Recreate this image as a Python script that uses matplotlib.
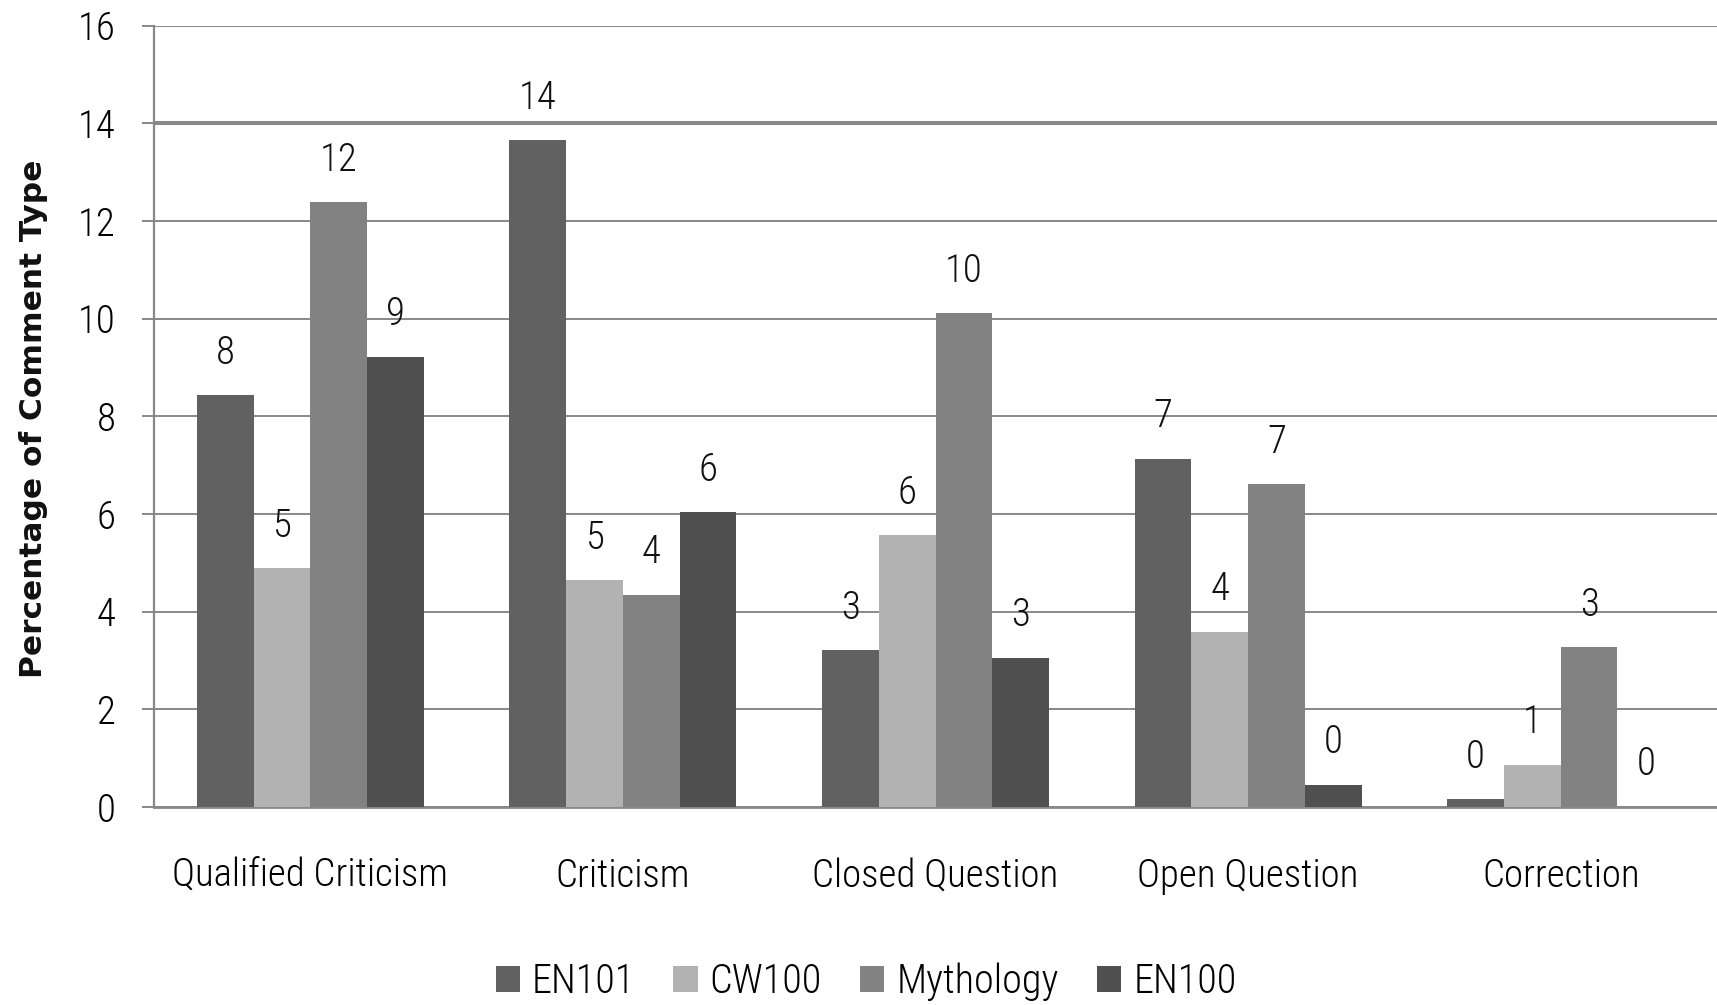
import matplotlib
matplotlib.use("Agg")
import matplotlib.pyplot as plt
import numpy as np
from matplotlib.font_manager import FontProperties

categories = ["Qualified Criticism", "Criticism", "Closed Question", "Open Question", "Correction"]
series_names = ["EN101", "CW100", "Mythology", "EN100"]
en101 = [8.43, 13.65, 3.21, 7.13, 0.16]
cw100 = [4.89, 4.64, 5.56, 3.59, 0.87]
mythology = [12.38, 4.35, 10.11, 6.61, 3.27]
en100 = [9.22, 6.03, 3.05, 0.45, 0.0]
labels_en101 = ["8", "14", "3", "7", "0"]
labels_cw100 = ["5", "5", "6", "4", "1"]
labels_myth = ["12", "4", "10", "7", "3"]
labels_en100 = ["9", "6", "3", "0", "0"]
yticks = [0, 2, 4, 6, 8, 10, 12, 14, 16]

colors = ["#616161", "#b2b2b2", "#828282", "#505050"]
grid_col = "#888888"

def cfont(size):
    return FontProperties(family=["Roboto Condensed", "IBM Plex Sans Condensed", "Open Sans"],
                          stretch="condensed", weight="light", size=size)

fig = plt.figure(figsize=(17.17, 10.05), dpi=100)
ax = fig.add_axes([0.0897, 0.197, 0.9103, 0.7776])

x = np.arange(len(categories))
w = 0.1815
data = [en101, cw100, mythology, en100]
labs = [labels_en101, labels_cw100, labels_myth, labels_en100]
for i, (vals, lab) in enumerate(zip(data, labs)):
    pos = x + (i - 1.5) * w
    ax.bar(pos, vals, width=w, color=colors[i], label=series_names[i], zorder=3)
    for px, v, t in zip(pos, vals, lab):
        ax.annotate(t, (px, v), xytext=(0, 30.5), textcoords="offset points",
                    ha="center", va="center", fontproperties=cfont(28), color="#111111")

ax.set_xlim(-0.5, 4.5)
ax.set_ylim(0, 16)
ax.set_yticks(yticks)
ax.set_yticklabels([str(t) for t in yticks])
for lb in ax.get_yticklabels():
    lb.set_fontproperties(cfont(28))
ax.set_xticks(x)
ax.set_xticklabels(categories)
for lb in ax.get_xticklabels():
    lb.set_fontproperties(cfont(28))
ax.tick_params(axis="x", length=0, pad=36)
ax.tick_params(axis="y", length=8.6, width=1.4, color=grid_col, pad=19)
ax.yaxis.grid(True, color=grid_col, linewidth=1.4, zorder=0)
gl = ax.get_ygridlines()
gl[7].set_linewidth(2.9)
for s in ["top", "right"]:
    ax.spines[s].set_visible(False)
ax.spines["left"].set_color(grid_col)
ax.spines["left"].set_linewidth(1.6)
ax.spines["bottom"].set_color(grid_col)
ax.spines["bottom"].set_linewidth(2)
ax.set_ylabel("Percentage of Comment Type", fontsize=22.5, fontweight="bold",
              family="DejaVu Sans", color="#111111")
ax.yaxis.set_label_coords(-0.0676, 0.497)

leg = fig.legend(loc="center", bbox_to_anchor=(0.5044, 0.0229), ncol=4, frameon=False,
                 prop=cfont(29), handlelength=0.6, handleheight=0.6,
                 handletextpad=0.3, columnspacing=0.95)

fig.savefig("out.png", dpi=100)
